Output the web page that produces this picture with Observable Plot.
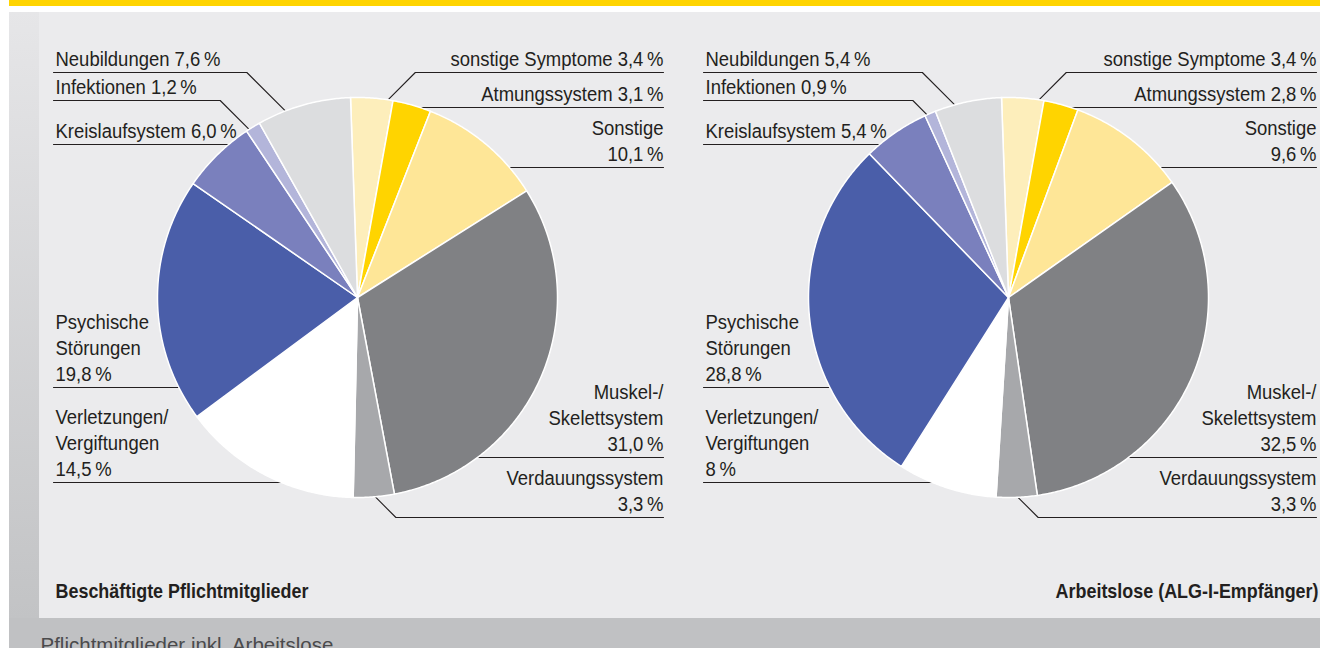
<!DOCTYPE html>
<html>
<head>
<meta charset="utf-8">
<script src="https://cdn.jsdelivr.net/npm/d3@7"></script>
<script src="https://cdn.jsdelivr.net/npm/@observablehq/plot@0.6"></script>
<style>
  html, body { margin: 0; padding: 0; background: #ffffff; overflow: hidden; }
  #wrap { position: relative; width: 1320px; height: 648px; overflow: hidden; background: #ffffff; }
  .bg { position: absolute; }
  #band { left: 9px; top: 0; width: 1311px; height: 6px; background: #ffd400; }
  #strip { left: 9px; top: 12px; width: 30px; height: 606px; background: linear-gradient(#e6e6e8, #c2c3c5); }
  #panel { left: 39px; top: 12px; width: 1281px; height: 606px; background: #ebebed; }
  #foot { left: 9px; top: 618px; width: 1311px; height: 30px; background: #c0c1c3; }
  #chart { position: absolute; left: 0; top: 0; }
</style>
</head>
<body>
<div id="wrap">
  <div class="bg" id="band"></div>
  <div class="bg" id="strip"></div>
  <div class="bg" id="panel"></div>
  <div class="bg" id="foot"></div>
  <div id="chart"></div>
</div>
<script>
// ---------- DATA ----------
const categories = ["sonstige Symptome", "Atmungssystem", "Sonstige", "Muskel-/Skelettsystem", "Verdauungssystem",
  "Verletzungen/Vergiftungen", "Psychische Störungen", "Kreislaufsystem", "Infektionen", "Neubildungen"];
const labelNames = ["sonstige Symptome", "Atmungssystem", "Sonstige\n", "Muskel-/\nSkelettsystem\n", "Verdauungssystem\n",
  "Verletzungen/\nVergiftungen\n", "Psychische\nStörungen\n", "Kreislaufsystem", "Infektionen", "Neubildungen"];
const groups = ["Beschäftigte Pflichtmitglieder", "Arbeitslose (ALG-I-Empfänger)"];
const valuesBeschaeftigte = [3.4, 3.1, 10.1, 31.0, 3.3, 14.5, 19.8, 6.0, 1.2, 7.6];
const valuesArbeitslose = [3.4, 2.8, 9.6, 32.5, 3.3, 8, 28.8, 5.4, 0.9, 5.4];
const valueLabelsBeschaeftigte = ["3,4", "3,1", "10,1", "31,0", "3,3", "14,5", "19,8", "6,0", "1,2", "7,6"];
const valueLabelsArbeitslose = ["3,4", "2,8", "9,6", "32,5", "3,3", "8", "28,8", "5,4", "0,9", "5,4"];
const caption = "Pflichtmitglieder inkl. Arbeitslose";

// ---------- STYLE / LAYOUT ----------
const palette = ["#fdeebb", "#ffd400", "#fee697", "#808184", "#a7a8ab", "#ffffff", "#4a5ea9", "#7a80bd", "#b3b5da", "#dcdddf"];
const textColor = "#231f20";
const font = "'Liberation Sans', Arial, Helvetica, sans-serif";
const rotationDeg = -2;
const pieLayout = [
  {cx: 357, cy: 297, r: 200, labelLeft: 55, labelRight: 663, lineLeft: 53, titleX: 55, titleAnchor: "start"},
  {cx: 1008, cy: 297, r: 200, labelLeft: 705, labelRight: 1316, lineLeft: 703, titleX: 1318, titleAnchor: "end"}
];
const labelLayout = [
  {side: "right", lineY: 72, diag: true, frac: 0.88},
  {side: "right", lineY: 107},
  {side: "right", lineY: 167},
  {side: "right", lineY: 457},
  {side: "right", lineY: 517, diag: true, frac: 0.47},
  {side: "left", lineY: 482},
  {side: "left", lineY: 387},
  {side: "left", lineY: 144},
  {side: "left", lineY: 100, diag: true, frac: 0.2},
  {side: "left", lineY: 72, diag: true, frac: 0.3}
];
const titleY = 597, captionX = 40, captionY = 651;
const condense = 0.88; // horizontal squeeze to mimic a condensed typeface

// ---------- BUILD ----------
const seriesValues = [valuesBeschaeftigte, valuesArbeitslose];
const seriesLabels = [valueLabelsBeschaeftigte, valueLabelsArbeitslose];
const rot = rotationDeg * Math.PI / 180;
const pie = d3.pie().sort(null).startAngle(rot).endAngle(rot + 2 * Math.PI);

const slicePts = [], leaderPts = [], labels = [], titles = [];
seriesValues.forEach((vals, g) => {
  const L = pieLayout[g];
  const arcs = pie(vals);
  arcs.forEach((a, i) => {
    const key = g + "-" + i;
    const cat = categories[i];
    slicePts.push({key, cat, x: L.cx, y: L.cy});
    const steps = Math.max(2, Math.ceil((a.endAngle - a.startAngle) / (Math.PI / 360)));
    for (let s = 0; s <= steps; ++s) {
      const t = a.startAngle + (a.endAngle - a.startAngle) * s / steps;
      slicePts.push({key, cat, x: L.cx + L.r * Math.sin(t), y: L.cy - L.r * Math.cos(t)});
    }
    // leader lines
    const lay = labelLayout[i];
    const sign = lay.side === "right" ? 1 : -1;
    const outerX = lay.side === "right" ? L.labelRight : L.lineLeft;
    leaderPts.push({key, x: outerX, y: lay.lineY});
    if (lay.diag) {
      const t = a.startAngle + lay.frac * (a.endAngle - a.startAngle);
      const ex = L.cx + L.r * Math.sin(t), ey = L.cy - L.r * Math.cos(t);
      leaderPts.push({key, x: ex + sign * Math.abs(ey - lay.lineY), y: lay.lineY});
      leaderPts.push({key, x: ex, y: ey});
    } else {
      const dy = lay.lineY - L.cy;
      leaderPts.push({key, x: L.cx + sign * Math.sqrt(L.r * L.r - dy * dy), y: lay.lineY});
    }
    const name = labelNames[i];
    labels.push({
      side: lay.side,
      x: lay.side === "right" ? L.labelRight : L.labelLeft,
      y: lay.lineY - 7,
      text: name + (name.endsWith("\n") ? "" : " ") + seriesLabels[g][i] + "\u2009%"
    });
  });
  titles.push({x: L.titleX, y: titleY, text: groups[g], anchor: L.titleAnchor});
});

// squeeze text glyphs horizontally around their anchor
function squeeze(factor) {
  return function (index, scales, values, dimensions, context, next) {
    const g = next(index, scales, values, dimensions, context);
    g.querySelectorAll("text").forEach((t) => {
      const tr = t.getAttribute("transform") || "";
      t.setAttribute("transform", tr + ` scale(${factor},1)`);
    });
    return g;
  };
}

const textOpts = {fontFamily: font, fontSize: 21, fill: textColor, lineAnchor: "bottom", lineHeight: 26 / 21,
  render: squeeze(condense)};
const titleOpts = {fontFamily: font, fontSize: 19.5, fontWeight: "bold", fill: textColor, lineAnchor: "bottom",
  render: squeeze(0.92)};

const chart = Plot.plot({
  width: 1320,
  height: 648,
  margin: 0,
  style: {background: "transparent", overflow: "visible"},
  x: {domain: [0, 1320], range: [0, 1320], axis: null},
  y: {domain: [0, 648], range: [0, 648], axis: null},
  color: {domain: categories, range: palette},
  marks: [
    Plot.line(leaderPts, {x: "x", y: "y", z: "key", stroke: textColor, strokeWidth: 1.1}),
    Plot.line(slicePts, {x: "x", y: "y", z: "key", fill: "cat", stroke: "#ffffff", strokeWidth: 1.5,
      strokeLinejoin: "round", curve: "linear-closed"}),
    Plot.text(labels.filter(d => d.side === "right"), {x: "x", y: "y", text: "text", textAnchor: "end", ...textOpts}),
    Plot.text(labels.filter(d => d.side === "left"), {x: "x", y: "y", text: "text", textAnchor: "start", ...textOpts}),
    Plot.text(titles.filter(d => d.anchor === "start"), {x: "x", y: "y", text: "text", textAnchor: "start", ...titleOpts}),
    Plot.text(titles.filter(d => d.anchor === "end"), {x: "x", y: "y", text: "text", textAnchor: "end", ...titleOpts}),
    Plot.text([caption], {x: captionX, y: captionY, text: d => d, textAnchor: "start", lineAnchor: "bottom",
      fontFamily: font, fontSize: 20.5, fill: "#4a4a4c"})
  ]
});
document.getElementById("chart").appendChild(chart);
</script>
</body>
</html>
